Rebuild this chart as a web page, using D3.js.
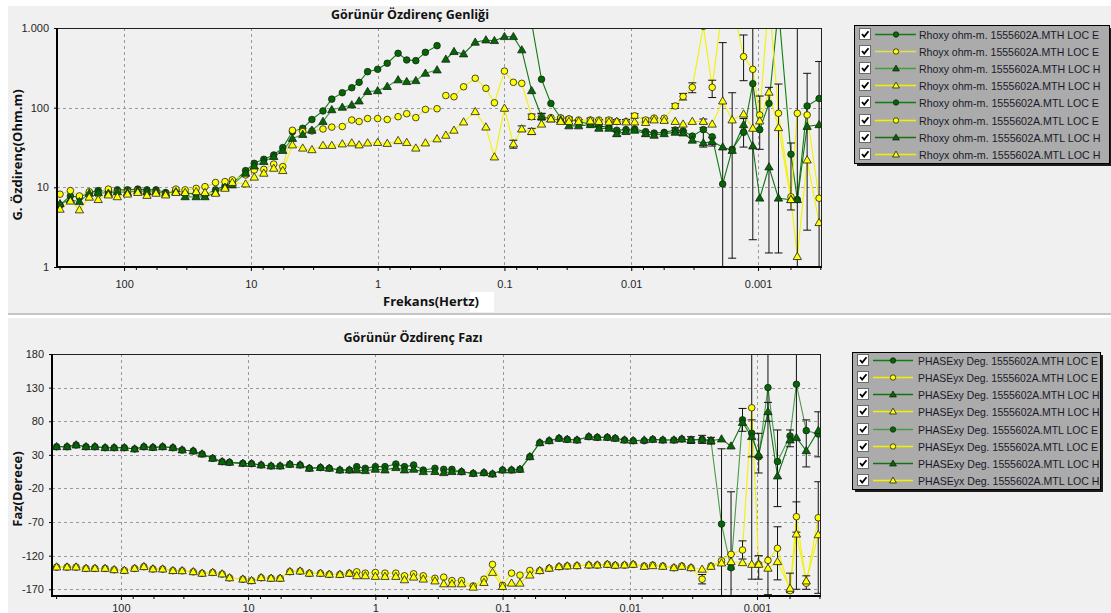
<!DOCTYPE html>
<html><head><meta charset="utf-8">
<script src="https://cdn.jsdelivr.net/npm/d3@7"></script>
<style>
html,body{margin:0;padding:0;background:#fff;}
svg{display:block;font-family:"Liberation Sans",Arial,sans-serif;}
</style></head><body>
<svg id="c" width="1111" height="613"></svg>
<script>
// ---------------- DATA ----------------
const freqMTH = [320, 265, 225, 188, 160, 133, 113, 94, 78, 66, 56, 47, 39, 33, 27, 23, 19, 16, 14, 11, 9.4, 7.9, 6.6, 5.6, 4.7, 3.9, 3.3, 2.7, 2.3, 1.9, 1.6, 1.4, 1.2, 1.0, 0.84, 0.69, 0.59, 0.5, 0.42, 0.34];
const freqMTL = [0.29, 0.25, 0.21, 0.17, 0.14, 0.12, 0.10, 0.085, 0.073, 0.061, 0.051, 0.043, 0.036, 0.031, 0.026, 0.021, 0.018, 0.015, 0.013, 0.011, 0.0094, 0.0077, 0.0066, 0.0055, 0.0045, 0.0039, 0.0033, 0.0027, 0.0023, 0.0019, 0.0016, 0.0013, 0.0011, 0.00097, 0.00082, 0.00069, 0.00055, 0.00049, 0.00041, 0.00033];

// apparent resistivity (ohm.m)
const rhoxyMTH_E = [6.0, 7.8, 7.5, 8.6, 9.1, 8.8, 9.3, 9.3, 9.5, 9.3, 9.3, 8.6, 9.1, 8.4, 8.3, 8.0, 9.3, 10.4, 11.2, 16.2, 20.0, 22.5, 25.5, 31.5, 50, 55, 71, 91, 128, 154, 178, 208, 283, 303, 361, 481, 397, 389, 495, 600];
const rhoyxMTH_E = [8.2, 9.1, 7.8, 8.8, 8.2, 9.5, 8.8, 8.8, 9.1, 8.3, 8.6, 8.3, 9.5, 9.3, 9.7, 10.2, 11.5, 11.8, 12.4, 14.3, 16.5, 16.8, 19.6, 18.2, 52, 50, 51, 54, 57, 58, 70, 67, 73, 73, 71, 77, 84, 75, 95, 97];
const rhoxyMTH_H = [6.2, 7.0, 6.6, 8.4, 8.6, 8.4, 8.8, 8.6, 9.1, 8.8, 8.8, 8.4, 8.8, 7.6, 7.6, 7.6, 8.6, 10.0, 10.7, 15.0, 18.5, 21, 24.3, 29, 41, 46, 52, 67, 94, 101, 108, 121, 159, 163, 184, 223, 212, 218, 270, 297];
const rhoyxMTH_H = [5.3, 6.7, 5.2, 7.5, 7.0, 8.0, 7.6, 8.2, 8.6, 7.9, 8.4, 8.0, 8.6, 8.6, 8.8, 8.6, 8.4, 9.7, 11.5, 11.0, 13.4, 15.0, 17.3, 16.2, 34, 31, 29.6, 33.5, 33.5, 35, 36, 34, 36, 36.5, 35.5, 38.5, 36.5, 31, 36, 40.5];
const rhoxyMTL_E = [2600, 3000, 3400, 3900, 4300, 4600, 4400, 3600, 2400, 1150, 227, 113, 74, 72, 67, 62, 59, 57, 52, 53, 54, 50, 48, 49, 52.5, 51, 44, 53, 43, 11, 30, 49, 200, 53, 113, 1800, 26, 7.0, 105, 130];
const rhoyxMTL_E = [142, 137, 183, 234, 175, 115, 288, 208, 202, 77, 77, 75, 74, 72, 70, 70, 70, 70, 67, 67, 79, 70, 74, 73.6, 105, 138, 180, 1050, 180, 2000, 2200, 437, 303, 81, 2500, 85, 7.6, 85, 81, 7.3];
const rhoxyMTL_H = [405, 505, 472, 662, 707, 693, 778, 778, 530, 163, 77, 72, 70, 59, 59, 61, 55, 55, 47, 50, 52, 47, 45, 47, 49, 48, 39, 36, 37.5, 32, 29, 61, 33, 7.3, 18, 7.3, 7.0, 7.0, 58, 61];
const rhoyxMTL_H = [45, 52, 66, 89, 57, 24, 98, 35, 54, 50, 62, 72, 67, 67, 67, 68, 67, 66, 67, 66, 66, 65, 70, 69, 67, 62, 67, 67, 62, 121, 70, 83, 55, 68, 156, 56, 7, 1.35, 22, 3.6];

// resistivity error bars: [point index, low, high]
const errRhoxyMTL_E = [[24, 49, 56], [29, 0, 655], [31, 32, 73], [33, 30, 140], [36, 5.2, 36], [39, 0, 380]];
const errRhoyxMTL_E = [[9, 71, 83], [10, 71, 84], [13, 68, 76], [15, 66, 74], [17, 66, 74], [19, 63, 71], [20, 74, 84], [21, 66, 74], [24, 98, 112], [25, 125, 151], [26, 154, 205], [28, 134, 221], [31, 218, 817], [32, 2.2, 2000]];
const errRhoxyMTL_H = [[10, 70, 85], [16, 52, 58], [18, 44, 50], [21, 44, 50], [25, 45, 51], [27, 32, 56], [28, 33, 42], [34, 1.5, 180], [35, 1.5, 198], [37, 0, 2000], [38, 2.9, 270]];
const errRhoyxMTL_H = [[7, 31, 39], [8, 50, 59], [9, 46, 55], [14, 63, 71], [16, 63, 71], [18, 63, 71], [22, 66, 74], [23, 65, 73], [27, 63, 72], [30, 1.29, 154]];

// phase (degrees)
const phaseXY_MTH_E = [42, 42, 44.6, 42, 42, 40.6, 40.6, 40.6, 38.7, 42, 41, 42, 40.6, 37.2, 35.7, 31.2, 24.8, 19.8, 18.8, 17.3, 16.9, 14.9, 13.4, 13.4, 15.9, 14.9, 10, 11, 10, 7.4, 7.4, 12.4, 10, 12.4, 12.4, 16.4, 12.4, 14.9, 7.4, 10];
const phaseYX_MTH_E = [-137, -137, -137, -139, -139, -139, -141, -142, -139, -136.4, -139.8, -140, -142.3, -142.5, -144, -146.3, -145, -147.3, -153, -155, -157.2, -152.8, -153.7, -153.7, -143.8, -143, -146.3, -146.3, -147.8, -148, -146.3, -144, -146, -145, -146, -146, -150, -147, -150, -153.7];
const phaseXY_MTH_H = [42, 42, 44.6, 42, 42, 40.6, 40.6, 40.6, 38.7, 42, 41, 42, 40.6, 37.2, 35.7, 31.2, 24.8, 19.8, 18.8, 17.3, 16.9, 14.9, 13.4, 13.4, 15.9, 14.9, 10, 11, 10, 7.4, 7.4, 7.4, 6.4, 8.4, 7.4, 10.9, 7.4, 8.4, 4.9, 5.0];
const phaseYX_MTH_H = [-137, -137, -137, -139, -139, -139, -141, -142, -139, -136.4, -139.8, -140, -142.3, -142.5, -144, -146.3, -145, -147.3, -153, -155, -157.2, -152.8, -153.7, -153.7, -143.8, -143, -146.3, -146.3, -147.8, -148, -146.3, -150, -150, -151, -151, -151, -156, -152, -155, -157.7];
const phaseXY_MTL_E = [8.4, 8.4, 4.9, 2.4, 3.4, 1.5, 7.4, 7.4, 8.4, 27.2, 48, 51, 54.6, 53, 52, 57, 56, 56, 54.6, 52, 51, 51, 53, 52, 52, 53.5, 52, 53, 51, -73, -138, 82, 62, 27, 130, 20, 58, 135, 66, 61];
const phaseYX_MTL_E = [-152, -157, -157, -165, -155, -133, -164, -146, -149, -142, -142.3, -138.8, -136.4, -135.4, -135, -134, -134, -133, -134.4, -134, -133, -135.4, -134, -135.4, -138, -135.4, -138, -155, -135.4, -127.5, -118, -111.6, 100, -133, -127, -109, -172, -62, -161, -63.6];
const phaseXY_MTL_H = [3.4, 5, 4.9, 2.4, 3.4, 1.5, 7.4, 7.4, 8.4, 27.2, 48, 51, 54.6, 53, 52, 57, 56, 56, 54.6, 52, 51, 52, 53, 52, 52, 53.5, 52, 53, 51, 53.5, 43, 78, 57, 30, 94, -1.5, 52, 55.5, 36, 66];
const phaseYX_MTL_H = [-162, -162, -162, -167, -160, -145, -166, -161, -161, -149, -142.3, -138.8, -136.4, -135.4, -135, -134, -134, -133, -134.4, -134, -133, -136, -135, -136, -138, -136, -138, -140.3, -136, -131, -129, -130.5, -133, -133, -138.8, -129, -168.7, -88, -157.7, -89];

// phase error bars: [point index, low, high]
const errPhaseXY_MTL_E = [[27, 47, 59], [29, -200, 39], [30, -200, -25], [31, 65, 99], [33, 3, 62], [34, -178, 200], [36, 42, 67], [37, -170, 200], [39, 27, 94]];
const errPhaseYX_MTL_E = [[27, -162, -148], [31, -125, -98], [32, -155, 200], [33, -155, -120], [35, -156, -77], [37, -85, -40]];
const errPhaseXY_MTL_H = [[26, 47, 57], [28, 46, 56], [32, 27, 82], [34, 80, 108], [35, -47, 67], [38, 12, 82]];
const errPhaseYX_MTL_H = [[30, -140, -118], [36, -175, -146], [38, -170, -150], [39, -176, -10]];

// ticks and labels
const freqTicks = [100, 10, 1, 0.1, 0.01, 0.001];
const freqTickLabels = ['100', '10', '1', '0.1', '0.01', '0.001'];
const minorMultipliers = [0.8, 0.55, 0.32];
const rhoTicks = [1, 10, 100, 1000];
const rhoTickLabels = ['1', '10', '100', '1.000'];
const phaseTicks = [180, 130, 80, 30, -20, -70, -120, -170];
const phaseTickLabels = ['180', '130', '80', '30', '-20', '-70', '-120', '-170'];

const rhoNames = ['Rhoxy ohm-m. 1555602A.MTH LOC E', 'Rhoyx ohm-m. 1555602A.MTH LOC E', 'Rhoxy ohm-m. 1555602A.MTH LOC H', 'Rhoyx ohm-m. 1555602A.MTH LOC H',
  'Rhoxy ohm-m. 1555602A.MTL LOC E', 'Rhoyx ohm-m. 1555602A.MTL LOC E', 'Rhoxy ohm-m. 1555602A.MTL LOC H', 'Rhoyx ohm-m. 1555602A.MTL LOC H'];
const phaseNames = ['PHASExy Deg. 1555602A.MTH LOC E', 'PHASEyx Deg. 1555602A.MTH LOC E', 'PHASExy Deg. 1555602A.MTH LOC H', 'PHASEyx Deg. 1555602A.MTH LOC H',
  'PHASExy Deg. 1555602A.MTL LOC E', 'PHASEyx Deg. 1555602A.MTL LOC E', 'PHASExy Deg. 1555602A.MTL LOC H', 'PHASEyx Deg. 1555602A.MTL LOC H'];

// ---------------- STYLE ----------------
const GD = '#0e7e0e', GM = '#3f9f3f', GD2 = '#137313', YL = '#f2f200', YP = '#e2e24a';
const GFILL = '#006a00', YFILL = '#ffff00';

const rhoSeries = [
  {name: rhoNames[0], f: freqMTH, v: rhoxyMTH_E, line: GD, fill: GFILL, shape: 'c', err: []},
  {name: rhoNames[1], f: freqMTH, v: rhoyxMTH_E, line: YP, fill: YFILL, shape: 'c', err: []},
  {name: rhoNames[2], f: freqMTH, v: rhoxyMTH_H, line: GM, fill: GFILL, shape: 't', err: []},
  {name: rhoNames[3], f: freqMTH, v: rhoyxMTH_H, line: YL, fill: YFILL, shape: 't', err: []},
  {name: rhoNames[4], f: freqMTL, v: rhoxyMTL_E, line: GD, fill: GFILL, shape: 'c', err: errRhoxyMTL_E},
  {name: rhoNames[5], f: freqMTL, v: rhoyxMTL_E, line: YL, fill: YFILL, shape: 'c', err: errRhoyxMTL_E},
  {name: rhoNames[6], f: freqMTL, v: rhoxyMTL_H, line: GD2, fill: GFILL, shape: 't', err: errRhoxyMTL_H},
  {name: rhoNames[7], f: freqMTL, v: rhoyxMTL_H, line: YL, fill: YFILL, shape: 't', err: errRhoyxMTL_H}
];
const phaseSeries = [
  {name: phaseNames[0], f: freqMTH, v: phaseXY_MTH_E, line: GD, fill: GFILL, shape: 'c', err: []},
  {name: phaseNames[1], f: freqMTH, v: phaseYX_MTH_E, line: YL, fill: YFILL, shape: 'c', err: []},
  {name: phaseNames[2], f: freqMTH, v: phaseXY_MTH_H, line: GD2, fill: GFILL, shape: 't', err: []},
  {name: phaseNames[3], f: freqMTH, v: phaseYX_MTH_H, line: YL, fill: YFILL, shape: 't', err: []},
  {name: phaseNames[4], f: freqMTL, v: phaseXY_MTL_E, line: '#4a9a4a', fill: GFILL, shape: 'c', err: errPhaseXY_MTL_E},
  {name: phaseNames[5], f: freqMTL, v: phaseYX_MTL_E, line: YL, fill: YFILL, shape: 'c', err: errPhaseYX_MTL_E},
  {name: phaseNames[6], f: freqMTL, v: phaseXY_MTL_H, line: GD2, fill: GFILL, shape: 't', err: errPhaseXY_MTL_H},
  {name: phaseNames[7], f: freqMTL, v: phaseYX_MTL_H, line: YL, fill: YFILL, shape: 't', err: errPhaseYX_MTL_H}
];

// ---------------- DRAW ----------------
const svg = d3.select('#c');
svg.append('rect').attr('width', 1111).attr('height', 613).attr('fill', '#fff');
svg.append('rect').attr('x', 8).attr('y', 6).attr('width', 1103).attr('height', 307).attr('fill', '#f0f0f0');
svg.append('rect').attr('x', 8).attr('y', 313).attr('width', 1103).attr('height', 2).attr('fill', '#c6c6c6');
svg.append('rect').attr('x', 8).attr('y', 318).attr('width', 1103).attr('height', 295).attr('fill', '#f0f0f0');

const triSym = d3.symbol().type(d3.symbolTriangle);

function drawMarker(g, shape, cx, cy, fill, small) {
  if (shape === 'c') {
    g.append('circle').attr('cx', cx).attr('cy', cy).attr('r', small ? 2.7 : 3.3)
      .attr('fill', fill).attr('stroke', '#1e1e1e').attr('stroke-width', 0.8);
  } else {
    g.append('path').attr('d', triSym.size(small ? 20 : 30)())
      .attr('transform', `translate(${cx},${cy + 0.5})`)
      .attr('fill', fill).attr('stroke', '#1e1e1e').attr('stroke-width', 0.8);
  }
}

function drawPanel(cfg) {
  const {x, y, L, R, T, B, id, series, yTicks, yLabels, logY} = cfg;
  const root = svg.append('g');
  root.append('rect').attr('x', L).attr('y', T).attr('width', R - L).attr('height', B - T).attr('fill', '#f0f0f0');
  root.append('clipPath').attr('id', id).append('rect').attr('x', L).attr('y', T).attr('width', R - L).attr('height', B - T);

  // grid
  const grid = root.append('g').attr('stroke', '#9a9a9a').attr('stroke-dasharray', '3,3').attr('stroke-width', 1);
  freqTicks.forEach(t => {
    const px = Math.round(x(t)) + 0.5;
    grid.append('line').attr('x1', px).attr('x2', px).attr('y1', T).attr('y2', B);
  });
  yTicks.forEach(t => {
    const py = Math.round(y(t)) + 0.5;
    if (py > T + 2 && py < B - 2) grid.append('line').attr('x1', L).attr('x2', R).attr('y1', py).attr('y2', py);
  });

  const plot = root.append('g').attr('clip-path', `url(#${id})`);
  const yBot = B + 10, yTop = T - 10;
  const yv = v => {
    if (logY && v <= 0) return yBot;
    const p = y(v);
    return Math.max(yTop, Math.min(yBot, p));
  };
  // lines
  series.forEach(s => {
    const pts = s.f.map((f, i) => [f, s.v[i]]);
    const line = d3.line().x(d => x(d[0])).y(d => y(d[1]));
    plot.append('path').attr('d', line(pts)).attr('fill', 'none').attr('stroke', s.line).attr('stroke-width', 1.1);
  });
  // error bars
  series.forEach(s => {
    s.err.forEach(([i, lo, hi]) => {
      const px = x(s.f[i]);
      const y0 = yv(lo), y1 = yv(hi);
      plot.append('line').attr('x1', px).attr('x2', px).attr('y1', y0).attr('y2', y1).attr('stroke', '#111').attr('stroke-width', 1);
      [y0, y1].forEach(py => plot.append('line').attr('x1', px - 4).attr('x2', px + 4).attr('y1', py).attr('y2', py).attr('stroke', '#111').attr('stroke-width', 1));
    });
  });
  // markers
  series.forEach(s => {
    s.f.forEach((f, i) => {
      const py = y(s.v[i]);
      if (py < T - 6 || py > B + 6) return;
      drawMarker(plot, s.shape, x(f), py, s.fill, false);
    });
  });

  // frame
  root.append('rect').attr('x', L + 0.5).attr('y', T + 0.5).attr('width', R - L - 1).attr('height', B - T - 1)
    .attr('fill', 'none').attr('stroke', '#202020').attr('stroke-width', 1);
  root.append('line').attr('x1', L).attr('x2', L).attr('y1', T).attr('y2', B + 1).attr('stroke', '#000').attr('stroke-width', 2);
  root.append('line').attr('x1', L - 1).attr('x2', R).attr('y1', B).attr('y2', B).attr('stroke', '#000').attr('stroke-width', 2);

  // x axis
  const xa = root.append('g').attr('transform', `translate(0,${B})`)
    .call(d3.axisBottom(x).tickValues(freqTicks).tickFormat((d, i) => freqTickLabels[i]).tickSize(4).tickPadding(cfg.xPad));
  xa.select('.domain').remove();
  xa.selectAll('text').attr('font-size', 11).attr('fill', '#262626').attr('font-family', '"Liberation Sans",Arial,sans-serif');
  xa.selectAll('line').attr('stroke', '#000');
  // minor ticks
  const [dmax, dmin] = x.domain();
  const minors = [];
  for (let e = 3; e >= -4; e--) minorMultipliers.forEach(m => { const f = m * Math.pow(10, e); if (f < dmax && f > dmin) minors.push(f); });
  root.append('g').selectAll('line').data(minors).join('line')
    .attr('x1', d => x(d)).attr('x2', d => x(d)).attr('y1', B).attr('y2', B + 3).attr('stroke', '#000');

  // y axis
  const ya = root.append('g').attr('transform', `translate(${L},0)`)
    .call(d3.axisLeft(y).tickValues(yTicks).tickFormat((d, i) => yLabels[i]).tickSize(3).tickPadding(5));
  ya.select('.domain').remove();
  ya.selectAll('text').attr('font-size', 11).attr('fill', '#262626').attr('font-family', '"Liberation Sans",Arial,sans-serif');
  ya.selectAll('line').attr('stroke', '#000');
}

const xTop = d3.scaleLog().domain([338, 0.000313]).range([57, 822]);
const yTop = d3.scaleLog().domain([1, 1000]).range([267, 28]);
const xBot = d3.scaleLog().domain([348, 0.000314]).range([52, 821]);
const yBotS = d3.scaleLinear().domain([-180, 180]).range([596, 354]);

drawPanel({x: xTop, y: yTop, L: 57, R: 822, T: 28, B: 267, id: 'clipTop', series: rhoSeries, yTicks: rhoTicks, yLabels: rhoTickLabels, logY: true, xPad: 9});
drawPanel({x: xBot, y: yBotS, L: 52, R: 821, T: 354, B: 596, id: 'clipBot', series: phaseSeries, yTicks: phaseTicks, yLabels: phaseTickLabels, logY: false, xPad: 4});

// titles
const titleFont = '"Open Sans","DejaVu Sans",sans-serif';
function txt(x, y, s, opts = {}) {
  const t = svg.append('text').attr('x', x).attr('y', y).text(s)
    .attr('font-family', opts.font || titleFont).attr('font-weight', opts.weight || 'bold')
    .attr('font-size', opts.size || 13).attr('fill', opts.fill || '#111')
    .attr('text-anchor', opts.anchor || 'middle').attr('dominant-baseline', 'central');
  if (opts.rot) t.attr('transform', `rotate(-90,${x},${y})`);
  return t;
}
txt(410, 14, 'Görünür Özdirenç Genliği', {size: 12.5});
svg.append('rect').attr('x', 470).attr('y', 292).attr('width', 24).attr('height', 20).attr('fill', '#fff');
txt(431, 301, 'Frekans(Hertz)', {size: 13});
txt(17, 155, 'G. Özdirenç(Ohm.m)', {size: 13, rot: true});
txt(413, 337, 'Görünür Özdirenç Fazı', {size: 12.5});
txt(17, 489, 'Faz(Derece)', {size: 13, rot: true});

// legends
function drawLegend(box, rowY0, rowDy, cbX, lx0, lx1, mx, tx, textW, series) {
  const g = svg.append('g');
  g.append('rect').attr('x', box.x + 3).attr('y', box.y + 3).attr('width', box.w).attr('height', box.h).attr('fill', '#1c1c1c');
  g.append('rect').attr('x', box.x + 0.5).attr('y', box.y + 0.5).attr('width', box.w).attr('height', box.h).attr('fill', '#ababab').attr('stroke', '#000');
  series.forEach((s, i) => {
    const cy = Math.round(rowY0 + i * rowDy);
    g.append('rect').attr('x', cbX + 0.5).attr('y', cy - 5.5).attr('width', 11).attr('height', 11).attr('fill', '#fff').attr('stroke', '#6a6a6a');
    g.append('path').attr('d', `M${cbX + 3},${cy} L${cbX + 5.2},${cy + 2.6} L${cbX + 9.5},${cy - 2.8}`)
      .attr('fill', 'none').attr('stroke', '#000').attr('stroke-width', 1.8);
    g.append('line').attr('x1', lx0).attr('x2', lx1).attr('y1', cy + 0.5).attr('y2', cy + 0.5).attr('stroke', s.line).attr('stroke-width', 1.3);
    drawMarker(g, s.shape, mx, cy + 0.5, s.fill, true);
    const t = g.append('text').attr('x', tx).attr('y', cy + 0.5).attr('dominant-baseline', 'central')
      .attr('font-family', '"Liberation Sans",Arial,sans-serif').attr('font-size', 10.8).attr('fill', '#1a1a2a').text(s.name);
    const w = t.node().getComputedTextLength();
    const target = textW + (s.name.endsWith('H') ? 1.5 : 0);
    if (Math.abs(w - target) > 1) t.attr('textLength', target).attr('lengthAdjust', 'spacingAndGlyphs');
  });
}
drawLegend({x: 854, y: 25, w: 255, h: 138}, 33.5, 17.22, 859, 875, 916, 896, 919, 180, rhoSeries);
drawLegend({x: 852, y: 352, w: 248, h: 137}, 360, 17.14, 857, 873, 913, 893, 918, 180, phaseSeries);
</script></body></html>
